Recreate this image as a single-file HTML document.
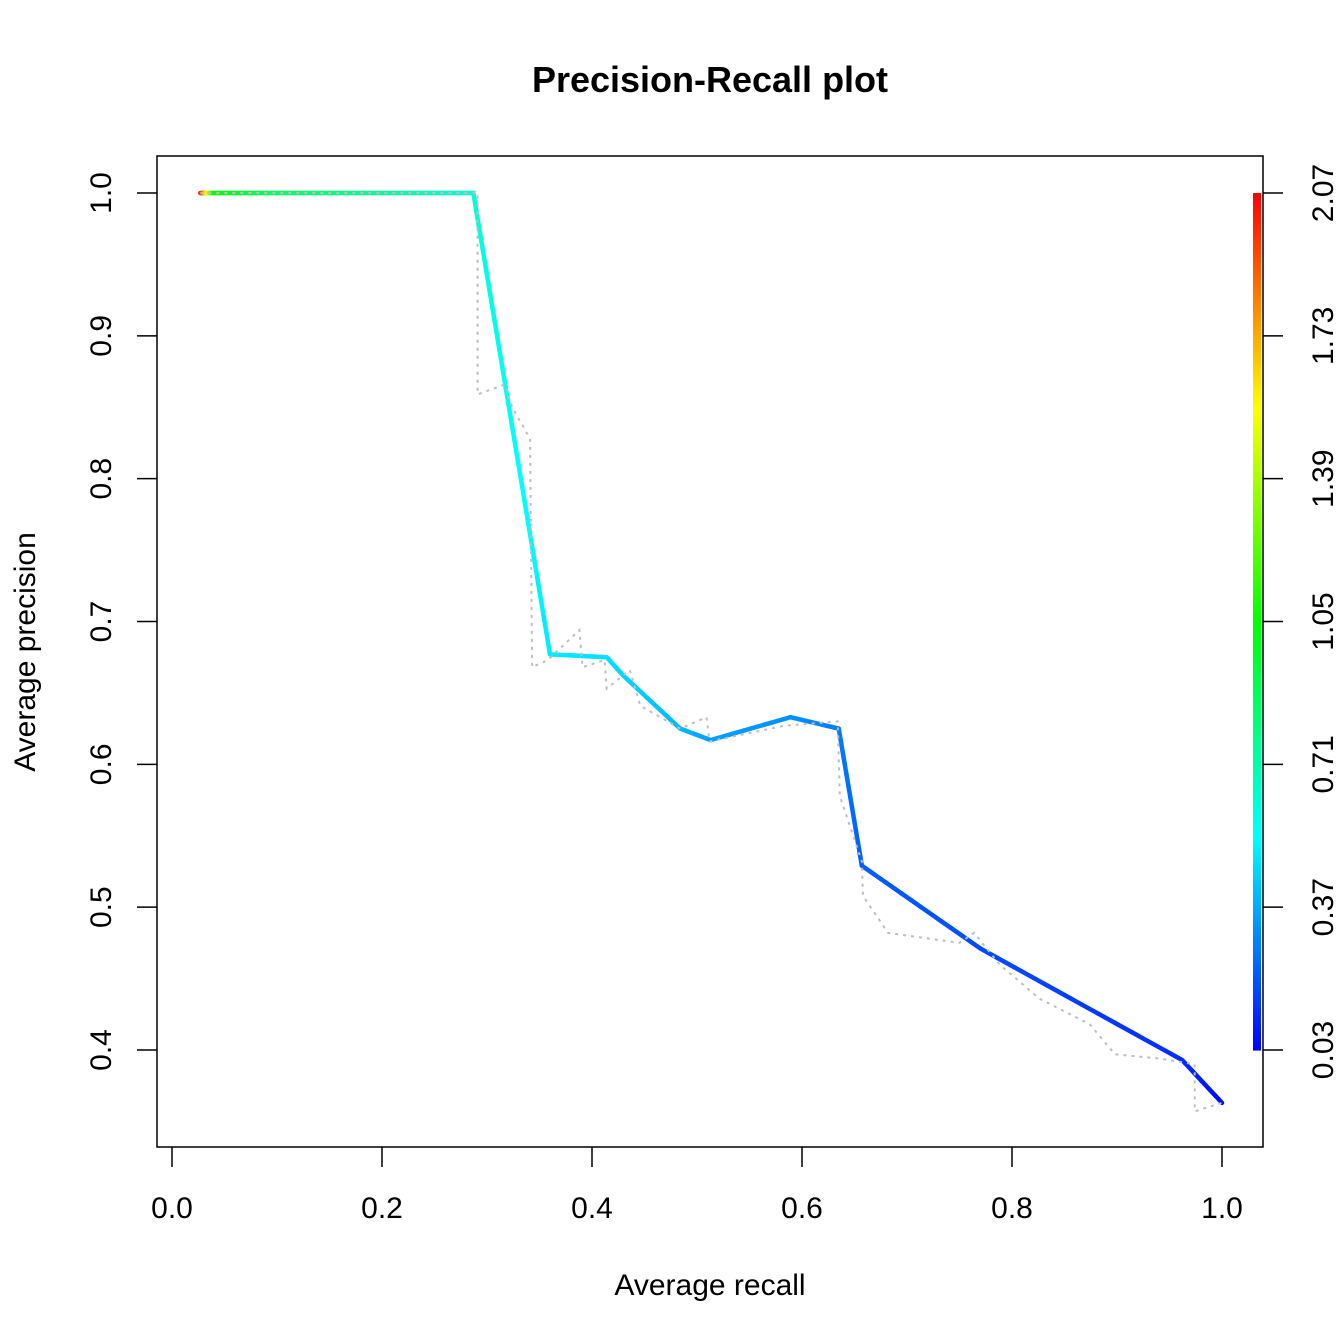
<!DOCTYPE html>
<html><head><meta charset="utf-8"><style>
body{margin:0;background:#fff}
svg{display:block;font-family:"Liberation Sans",Arial,sans-serif}
</style></head><body>
<svg id="c" width="1344" height="1344" viewBox="0 0 1344 1344">
<rect width="1344" height="1344" fill="#fff"/>
<text x="710" y="92" text-anchor="middle" font-size="36" font-weight="bold">Precision-Recall plot</text>
<text x="710" y="1295" text-anchor="middle" font-size="30">Average recall</text>
<text transform="translate(35,652) rotate(-90)" text-anchor="middle" font-size="30">Average precision</text>
<rect x="157" y="156" width="1106" height="991" fill="none" stroke="#000" stroke-width="1.5"/>
<g id="ax"></g><g id="main"></g><g id="gray"></g><g id="cbar"></g>
</svg>
<script>
const xTicks=[0,0.2,0.4,0.6,0.8,1.0];
const xTickLabels=["0.0","0.2","0.4","0.6","0.8","1.0"];
const yTicks=[0.4,0.5,0.6,0.7,0.8,0.9,1.0];
const yTickLabels=["0.4","0.5","0.6","0.7","0.8","0.9","1.0"];
const cbTickLabels=["0.03","0.37","0.71","1.05","1.39","1.73","2.07"];
const recall=[0.027,0.04,0.10,0.20,0.287,0.360,0.414,0.43,0.484,0.513,0.589,0.635,0.657,0.77,0.962,1.0];
const precision=[1.0,1.0,1.0,1.0,1.0,0.677,0.675,0.662,0.625,0.617,0.633,0.625,0.529,0.471,0.393,0.363];
const cutoff=[2.07,1.05,0.85,0.75,0.62,0.50,0.48,0.46,0.40,0.35,0.32,0.28,0.22,0.18,0.12,0.05];
const grayRecall=[0.027,0.291,0.291,0.317,0.324,0.341,0.343,0.358,0.388,0.391,0.412,0.414,0.436,0.446,0.484,0.509,0.512,0.583,0.634,0.636,0.657,0.658,0.682,0.750,0.764,0.788,0.826,0.874,0.898,0.941,0.974,0.974,1.0];
const grayPrecision=[1.0,1.0,0.859,0.866,0.850,0.828,0.668,0.673,0.694,0.668,0.673,0.653,0.666,0.641,0.625,0.633,0.616,0.627,0.630,0.578,0.532,0.508,0.482,0.475,0.482,0.460,0.436,0.418,0.397,0.394,0.390,0.357,0.363];
const ns="http://www.w3.org/2000/svg";
const X=v=>172+v*1050, Y=v=>193+(1-v)*1428.33;
const cMin=0.03,cMax=2.07, CB=c=>1050-(c-cMin)/(cMax-cMin)*857;
function col(c){let t=Math.max(0,Math.min(1,(c-cMin)/(cMax-cMin)));return `hsl(${240*(1-t)},100%,50%)`;}
function mk(tag,at,parent){const e=document.createElementNS(ns,tag);for(const k in at)e.setAttribute(k,at[k]);parent.appendChild(e);return e;}
const ax=document.getElementById('ax');
xTicks.forEach((v,i)=>{
 const l=mk('line',{x1:X(v),x2:X(v),y1:1147,y2:1167,stroke:'#000','stroke-width':1.5},ax);
 
 
 const t=mk('text',{x:X(v),y:1218,'text-anchor':'middle','font-size':30},ax);t.textContent=xTickLabels[i];
 
 
});
yTicks.forEach((v,i)=>{
 const l=mk('line',{x1:137,x2:157,y1:Y(v),y2:Y(v),stroke:'#000','stroke-width':1.5},ax);
 
 
 const t=mk('text',{transform:`translate(111,${Y(v)}) rotate(-90)`,'text-anchor':'middle','font-size':30},ax);t.textContent=yTickLabels[i];
 
 
});
const m=document.getElementById('main');
for(let i=0;i<recall.length-1;i++){
 const n=12;
 for(let k=0;k<n;k++){
  const a=k/n,b=(k+1)/n;
  const r1=recall[i]+(recall[i+1]-recall[i])*a,r2=recall[i]+(recall[i+1]-recall[i])*b;
  const p1=precision[i]+(precision[i+1]-precision[i])*a,p2=precision[i]+(precision[i+1]-precision[i])*b;
  const c=cutoff[i]+(cutoff[i+1]-cutoff[i])*(a+b)/2;
  const s=mk('line',{x1:X(r1),y1:Y(p1),x2:X(r2),y2:Y(p2),stroke:col(c),'stroke-width':4.5,'stroke-linecap':'round'},m);
  
  
 }
}
const g=document.getElementById('gray');
const gp=mk('polyline',{points:grayRecall.map((r,i)=>X(r)+','+Y(grayPrecision[i])).join(' '),fill:'none',stroke:'#bebebe','stroke-width':2,'stroke-dasharray':'3,5'},g);


const cb=document.getElementById('cbar');
for(let k=0;k<200;k++){
 const c1=cMin+(cMax-cMin)*k/200,c2=cMin+(cMax-cMin)*(k+1)/200;
 const r=mk('rect',{x:1253,y:CB(c2),width:8,height:CB(c1)-CB(c2)+0.6,fill:col((c1+c2)/2)},cb);
 
 
}
cbTickLabels.forEach(s=>{
 const v=parseFloat(s);
 const l=mk('line',{x1:1263,x2:1283,y1:CB(v),y2:CB(v),stroke:'#000','stroke-width':1.5},cb);
 
 
 const t=mk('text',{transform:`translate(1333,${CB(v)}) rotate(-90)`,'text-anchor':'middle','font-size':30},cb);t.textContent=s;
 
 
});
</script>
</body></html>
